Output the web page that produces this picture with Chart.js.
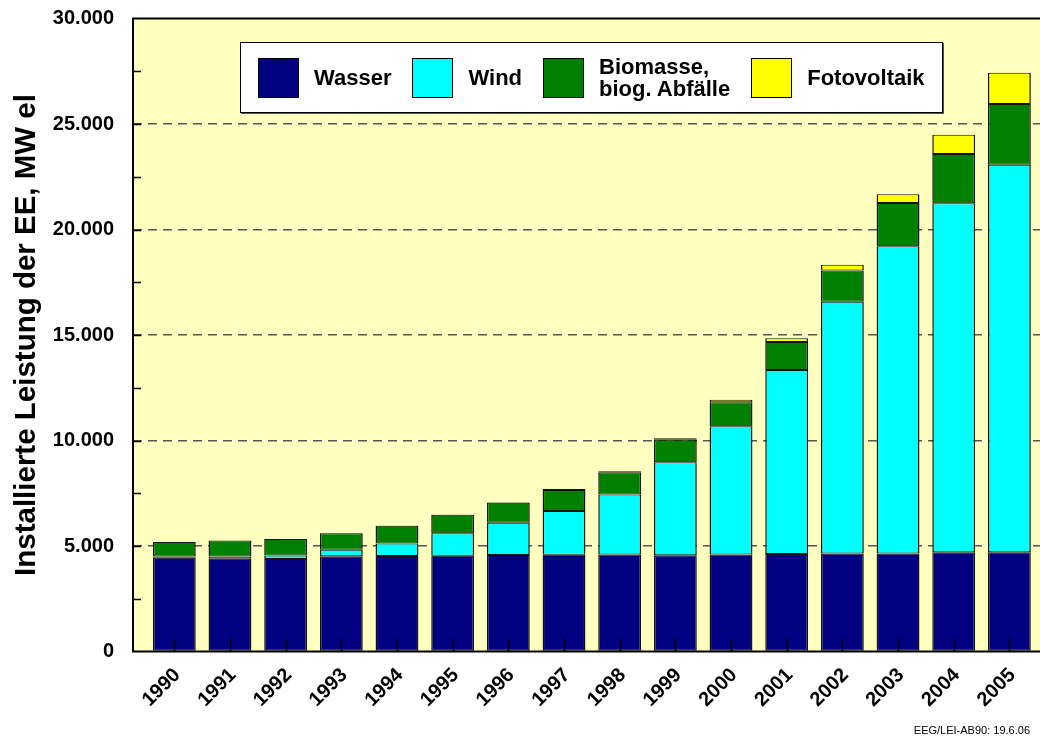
<!DOCTYPE html>
<html><head><meta charset="utf-8">
<script src="https://cdn.jsdelivr.net/npm/chart.js@4.4.0/dist/chart.umd.min.js"></script>
<style>
html,body{margin:0;padding:0;background:#fff;}
#wrap{position:relative;width:1040px;height:749px;overflow:hidden;font-family:"Liberation Sans",Arial,sans-serif;}
canvas{position:absolute;left:0;top:0;}
#legend{position:absolute;left:240px;top:42px;width:703px;height:71px;background:#fff;border:1px solid #000;box-shadow:1px 1px 0 #555;display:flex;align-items:center;padding-left:17px;box-sizing:border-box;overflow:hidden;}
.item{display:flex;align-items:center;margin-right:21px;flex-shrink:0;}
.sw{width:41px;height:40px;border:1.5px solid #000;box-sizing:border-box;margin-right:15px;flex-shrink:0;}
.lb{font-weight:bold;font-size:22px;line-height:22px;white-space:pre;color:#000;}
#foot{position:absolute;right:10px;top:724px;font-size:11px;color:#000;}
</style></head><body>
<div id="wrap"><canvas id="c" width="1040" height="749"></canvas><div id="legend"></div><div id="foot">EEG/LEI-AB90: 19.6.06</div></div>
<script>
const years = ['1990','1991','1992','1993','1994','1995','1996','1997','1998','1999','2000','2001','2002','2003','2004','2005'];
const wasser = [4440,4400,4380,4520,4530,4540,4570,4590,4600,4560,4600,4620,4640,4650,4700,4700];
const wind = [60,100,174,300,590,1060,1530,2070,2845,4410,6070,8720,11930,14560,16540,18370];
const biomasse = [690,760,775,790,835,880,950,995,1045,1070,1140,1330,1485,2050,2340,2875];
const fotovoltaik = [2,3,6,9,12,18,28,42,54,70,120,176,270,410,915,1485];
const seriesLabels = ['Wasser','Wind','Biomasse,\nbiog. Abfälle','Fotovoltaik'];
const seriesColors = ['#000080','#00FFFF','#008000','#FFFF00'];
const yTicks = [0,5000,10000,15000,20000,25000,30000];
const yTitle = 'Installierte Leistung der EE, MW el';

const FONT = '"Liberation Sans", Arial, sans-serif';
const toXY = arr => arr.map((v,i)=>({x:i,y:v}));
const allSeries = [wasser, wind, biomasse, fotovoltaik];
const datasets = allSeries.map((s,k)=>({
  label: seriesLabels[k].replace('\n',' '),
  data: toXY(s),
  backgroundColor: seriesColors[k],
  borderColor: '#111',
  borderWidth: {top:1, bottom:1, left:1.5, right:1.5},
  borderSkipped: false,
  barPercentage: 0.77,
  categoryPercentage: 1
}));

// HTML legend
const lg = document.getElementById('legend');
seriesLabels.forEach((l,k)=>{
  const it = document.createElement('div'); it.className='item';
  const sw = document.createElement('div'); sw.className='sw'; sw.style.background=seriesColors[k];
  const lb = document.createElement('div'); lb.className='lb'; lb.textContent=l;
  it.appendChild(sw); it.appendChild(lb); lg.appendChild(it);
});

const fmt = v => String(v).replace(/\B(?=(\d{3})+(?!\d))/g,'.');

const framePlugin = {
  id:'frame',
  beforeDraw(chart){
    const {ctx, chartArea:a} = chart;
    ctx.save(); ctx.fillStyle='#FFFFC0';
    ctx.fillRect(a.left,a.top,a.right-a.left,a.bottom-a.top);
    ctx.restore();
  },
  afterDatasetsDraw(chart){
    const {ctx, chartArea:a, scales:{x,y}} = chart;
    ctx.save();
    ctx.strokeStyle='#000'; ctx.lineWidth=1.5;
    years.forEach((_,i)=>{
      const px = Math.round(x.getPixelForValue(i))+0.5;
      ctx.beginPath(); ctx.moveTo(px,a.bottom); ctx.lineTo(px,a.bottom-13); ctx.stroke();
    });
    for (let v=2500; v<30000; v+=2500){
      const py = Math.round(y.getPixelForValue(v))+0.5;
      ctx.beginPath(); ctx.moveTo(a.left,py); ctx.lineTo(a.left+8,py); ctx.stroke();
    }
    ctx.lineWidth=2;
    ctx.beginPath();
    ctx.moveTo(a.right+2,a.top); ctx.lineTo(a.left,a.top); ctx.lineTo(a.left,a.bottom); ctx.lineTo(a.right+2,a.bottom);
    ctx.stroke();
    ctx.restore();
  }
};

new Chart(document.getElementById('c'), {
  type:'bar',
  data:{datasets},
  options:{
    responsive:false, animation:false, devicePixelRatio:1,
    layout:{padding:{top:18.5,right:0,bottom:0,left:0}},
    plugins:{legend:{display:false}, tooltip:{enabled:false}},
    scales:{
      x:{
        type:'linear', stacked:true, min:-0.742, max:15.55, offset:false,
        afterBuildTicks: s => { s.ticks = years.map((_,i)=>({value:i})); },
        afterFit: s => { s.height = 97.5; s.paddingLeft = 0; s.paddingRight = 0; },
        grid:{display:false, drawTicks:false},
        border:{display:false},
        ticks:{
          autoSkip:false, minRotation:45, maxRotation:45, padding:12, labelOffset:3,
          color:'#000', font:{family:FONT, size:20, weight:'bold'},
          callback: v => years[v] ?? ''
        }
      },
      y:{
        stacked:true, min:0, max:30000,
        afterBuildTicks: s => { s.ticks = yTicks.map(v=>({value:v})); },
        afterFit: s => { s.width = 133; s.paddingTop = 0; s.paddingBottom = 0; },
        grid:{
          drawTicks:false, lineWidth:1.4,
          color: c => (c.tick && (c.tick.value===0 || c.tick.value===30000)) ? 'rgba(0,0,0,0)' : '#555'
        },
        border:{display:false, dash:[9,6]},
        ticks:{
          padding:19, color:'#000', font:{family:FONT, size:20, weight:'bold'},
          callback: v => fmt(v)
        },
        title:{
          display:true, text:yTitle, color:'#000',
          font:{family:FONT, size:29.5, weight:'bold'}, padding:{top:9,bottom:0}
        }
      }
    }
  },
  plugins:[framePlugin]
});
</script>
</body></html>
